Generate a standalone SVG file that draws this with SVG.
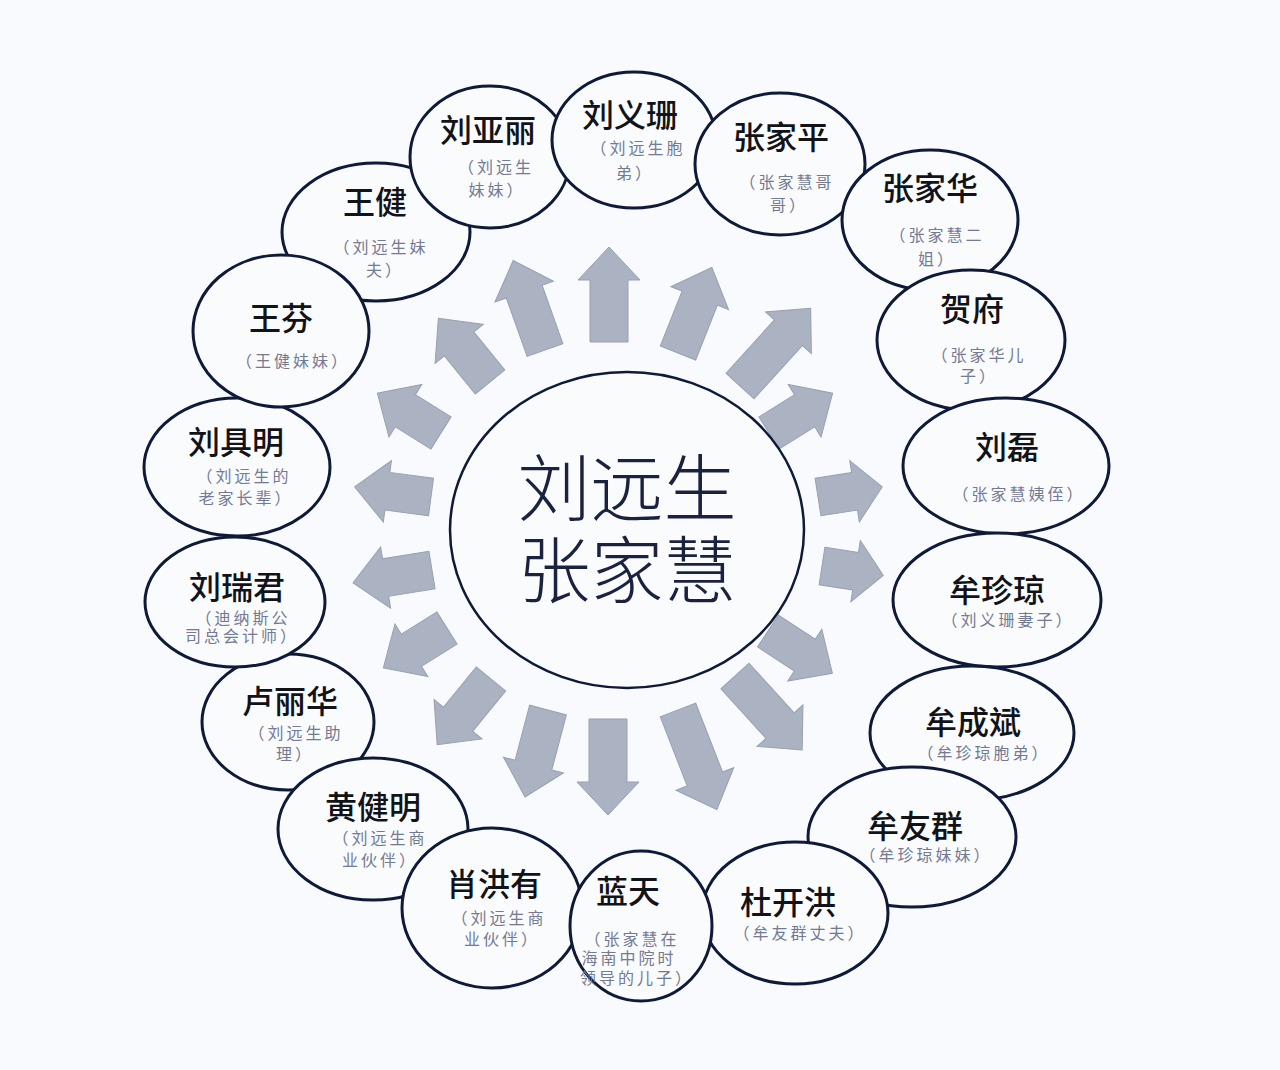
<svg xmlns="http://www.w3.org/2000/svg" width="1280" height="1070" viewBox="0 0 1280 1070">
<style>
.bg{fill:#f8fafd}
.node{fill:#fafbfd;stroke:#0f1a38;stroke-width:3}
.hub{fill:#fafbfd;stroke:#0f1a38;stroke-width:2.5}
.arr{fill:#abb3c2;stroke:#97a0b2;stroke-width:1}
.nm{font-family:"Noto Sans CJK SC","Noto Sans",sans-serif;font-size:32px;font-weight:500;fill:#111318;text-anchor:middle}
.sb{font-family:"Noto Sans CJK SC","Noto Sans",sans-serif;font-size:16px;letter-spacing:3px;font-weight:400;fill:#737a93;text-anchor:middle}
.ctr{font-family:"Noto Sans CJK SC","Noto Sans",sans-serif;font-size:73px;font-weight:300;fill:#1a2240;text-anchor:middle}
</style>
<rect class="bg" x="0" y="0" width="1280" height="1070"/>

<g id="connectors">
<path class="arr" transform="translate(609,342) rotate(-90)" d="M0,-19H62V-31L95,0L62,31V19H0Z"/>
<path class="arr" transform="translate(545,350) rotate(-109.6)" d="M0,-19H62V-31L95,0L62,31V19H0Z"/>
<path class="arr" transform="translate(678,353) rotate(-68.4)" d="M0,-19H59V-31L92,0L59,31V19H0Z"/>
<path class="arr" transform="translate(490,382) rotate(-129)" d="M0,-19H49V-31L82,0L49,31V19H0Z"/>
<path class="arr" transform="translate(740,386) rotate(-47.7)" d="M0,-19H72V-31L105,0L72,31V19H0Z"/>
<path class="arr" transform="translate(441,433) rotate(-148)" d="M0,-19H42V-31L75,0L42,31V19H0Z"/>
<path class="arr" transform="translate(769,433) rotate(-32)" d="M0,-19H42V-31L75,0L42,31V19H0Z"/>
<path class="arr" transform="translate(431,497) rotate(-172.5)" d="M0,-19H44V-31L77,0L44,31V19H0Z"/>
<path class="arr" transform="translate(818,497) rotate(-8.9)" d="M0,-19H37V-31L65,0L37,31V19H0Z"/>
<path class="arr" transform="translate(822,566) rotate(8.8)" d="M0,-19H34V-31L62,0L34,31V19H0Z"/>
<path class="arr" transform="translate(432,570) rotate(170.7)" d="M0,-19H47V-31L80,0L47,31V19H0Z"/>
<path class="arr" transform="translate(447,628) rotate(148)" d="M0,-19H42V-31L75,0L42,31V19H0Z"/>
<path class="arr" transform="translate(491,679) rotate(129.3)" d="M0,-19H52V-31L85,0L52,31V19H0Z"/>
<path class="arr" transform="translate(548,710) rotate(104.8)" d="M0,-19H57V-31L90,0L57,31V19H0Z"/>
<path class="arr" transform="translate(608,719) rotate(90)" d="M0,-19H63V-31L96,0L63,31V19H0Z"/>
<path class="arr" transform="translate(678,710) rotate(68.7)" d="M0,-19H74V-31L107,0L74,31V19H0Z"/>
<path class="arr" transform="translate(735,676) rotate(47.8)" d="M0,-19H67V-31L100,0L67,31V19H0Z"/>
<path class="arr" transform="translate(768,631) rotate(33.3)" d="M0,-19H44V-31L77,0L44,31V19H0Z"/>
</g>

<g id="hub">
<ellipse class="hub" cx="627" cy="530" rx="177" ry="158"/>
<text class="ctr" x="627" y="515">刘远生</text>
<text class="ctr" x="627" y="597">张家慧</text>
</g>

<g id="n-wangjian">
<ellipse class="node" cx="376" cy="232" rx="94" ry="69"/>
<text class="nm" x="375" y="214">王健</text>
<text class="sb" x="381" y="253">（刘远生妹</text>
<text class="sb" x="385" y="276">夫）</text>
</g>

<g id="n-liuyali">
<ellipse class="node" cx="490" cy="157" rx="80" ry="71"/>
<text class="nm" x="488" y="142">刘亚丽</text>
<text class="sb" x="496" y="173">（刘远生</text>
<text class="sb" x="497" y="196">妹妹）</text>
</g>

<g id="n-liuyishan">
<ellipse class="node" cx="634" cy="140" rx="82" ry="68"/>
<text class="nm" x="630" y="127">刘义珊</text>
<text class="sb" x="638" y="154">（刘远生胞</text>
<text class="sb" x="635" y="179">弟）</text>
</g>

<g id="n-zhangjiaping">
<ellipse class="node" cx="780" cy="164" rx="85" ry="71"/>
<text class="nm" x="781" y="149">张家平</text>
<text class="sb" x="787" y="188">（张家慧哥</text>
<text class="sb" x="789" y="211">哥）</text>
</g>

<g id="n-zhangjiahua">
<ellipse class="node" cx="930" cy="220" rx="88" ry="70"/>
<text class="nm" x="930" y="200">张家华</text>
<text class="sb" x="937" y="241">（张家慧二</text>
<text class="sb" x="937" y="265">姐）</text>
</g>

<g id="n-hefu">
<ellipse class="node" cx="971" cy="340" rx="94" ry="70"/>
<text class="nm" x="972" y="321">贺府</text>
<text class="sb" x="979" y="361">（张家华儿</text>
<text class="sb" x="979" y="382">子）</text>
</g>

<g id="n-liulei">
<ellipse class="node" cx="1006" cy="466" rx="103" ry="68"/>
<text class="nm" x="1007" y="459">刘磊</text>
<text class="sb" x="1019" y="500">（张家慧姨侄）</text>
</g>

<g id="n-mouzhenqiong">
<ellipse class="node" cx="997" cy="600" rx="104" ry="67"/>
<text class="nm" x="997" y="602">牟珍琼</text>
<text class="sb" x="1008" y="626">（刘义珊妻子）</text>
</g>

<g id="n-mouchengbin">
<ellipse class="node" cx="972" cy="733" rx="102" ry="67"/>
<text class="nm" x="973" y="734">牟成斌</text>
<text class="sb" x="984" y="759">（牟珍琼胞弟）</text>
</g>

<g id="n-mouyouqun">
<ellipse class="node" cx="912" cy="837" rx="104" ry="70"/>
<text class="nm" x="915" y="838">牟友群</text>
<text class="sb" x="926" y="861">（牟珍琼妹妹）</text>
</g>

<g id="n-dukaihong">
<ellipse class="node" cx="795" cy="913" rx="93" ry="71"/>
<text class="nm" x="788" y="914">杜开洪</text>
<text class="sb" x="800" y="939">（牟友群丈夫）</text>
</g>

<g id="n-luyihua">
<ellipse class="node" cx="288" cy="722" rx="86" ry="68"/>
<text class="nm" x="290" y="713">卢丽华</text>
<text class="sb" x="296" y="739">（刘远生助</text>
<text class="sb" x="295" y="760">理）</text>
</g>

<g id="n-huangjianming">
<ellipse class="node" cx="373" cy="829" rx="95" ry="71"/>
<text class="nm" x="373" y="819">黄健明</text>
<text class="sb" x="380" y="844">（刘远生商</text>
<text class="sb" x="380" y="866">业伙伴）</text>
</g>

<g id="n-xiaohongyou">
<ellipse class="node" cx="492" cy="908" rx="90" ry="80"/>
<text class="nm" x="494" y="896">肖洪有</text>
<text class="sb" x="499" y="924">（刘远生商</text>
<text class="sb" x="502" y="945">业伙伴）</text>
</g>

<g id="n-lantian">
<ellipse class="node" cx="641" cy="926" rx="71" ry="75"/>
<text class="nm" x="628" y="903">蓝天</text>
<text class="sb" x="632" y="945">（张家慧在</text>
<text class="sb" x="629" y="964">海南中院时</text>
<text class="sb" x="637" y="984">领导的儿子）</text>
</g>

<g id="n-liuruijun">
<ellipse class="node" cx="235" cy="602" rx="90" ry="65"/>
<text class="nm" x="237" y="599">刘瑞君</text>
<text class="sb" x="243" y="624">（迪纳斯公</text>
<text class="sb" x="242" y="642">司总会计师）</text>
</g>

<g id="n-liujuming">
<ellipse class="node" cx="237" cy="467" rx="93" ry="69"/>
<text class="nm" x="236" y="454">刘具明</text>
<text class="sb" x="244" y="482">（刘远生的</text>
<text class="sb" x="246" y="504">老家长辈）</text>
</g>

<g id="n-wangfen">
<ellipse class="node" cx="281" cy="331" rx="88" ry="76"/>
<text class="nm" x="281" y="330">王芬</text>
<text class="sb" x="293" y="367">（王健妹妹）</text>
</g>
</svg>
